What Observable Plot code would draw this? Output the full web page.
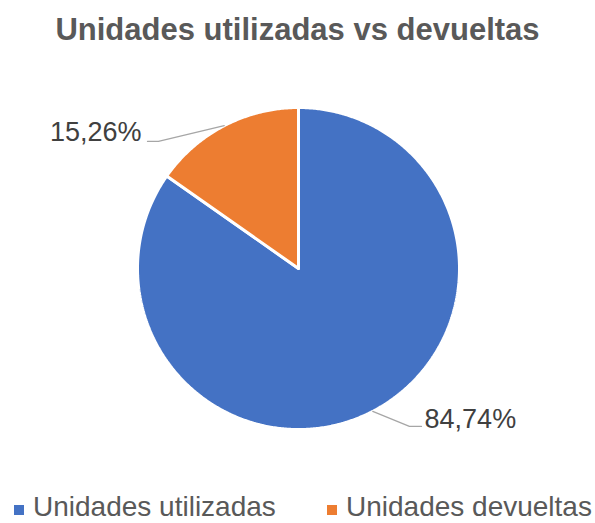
<!DOCTYPE html>
<html>
<head>
<meta charset="utf-8">
<script src="https://cdn.jsdelivr.net/npm/d3@7"></script>
<script src="https://cdn.jsdelivr.net/npm/@observablehq/plot@0.6"></script>
<style>
  html, body { margin: 0; padding: 0; background: #fff; }
  #wrap { position: relative; width: 595px; height: 523px; overflow: hidden; font-family: "Liberation Sans", Arial, sans-serif; }
  #title { position: absolute; left: 0; top: 0; width: 595px; height: 62px; text-align: center; font-weight: bold; font-size: 31px; color: #595959; line-height: 60px; }
  #chart { position: absolute; left: 0; top: 62px; }
  #legend { position: absolute; left: 0; top: 480px; width: 595px; height: 43px; }
  .item { position: absolute; top: 0; height: 43px; font-size: 28px; color: #595959; line-height: 43px; white-space: nowrap; }
  .sw { position: absolute; top: 25px; width: 10px; height: 10px; }
</style>
</head>
<body>
<div id="wrap">
  <div id="title"></div>
  <div id="chart"></div>
  <div id="legend"></div>
</div>
<script>
// ---- data ----
const titleText = "Unidades utilizadas vs devueltas";
const categories = ["Unidades utilizadas", "Unidades devueltas"];
const values = [84.74, 15.26];
const valueLabels = ["84,74%", "15,26%"];
const colors = ["#4472C4", "#ED7D31"];

document.getElementById("title").textContent = titleText;

// ---- slice geometry from values ----
const arcs = d3.pie().sort(null).value(d => d)(values);
const polys = [];
arcs.forEach((a, i) => {
  const cat = categories[i];
  polys.push({cat, x: 0, y: 0});
  const n = Math.max(2, Math.ceil((a.endAngle - a.startAngle) / (Math.PI / 360)));
  for (let k = 0; k <= n; k++) {
    const t = a.startAngle + (a.endAngle - a.startAngle) * k / n;
    polys.push({cat, x: Math.sin(t), y: Math.cos(t)});
  }
  polys.push({cat, x: 0, y: 0});
});

// label layout (data units relative to the unit circle)
const labelLayout = [
  {elbow: [0.689, -0.981], end: [0.764, -0.981], text: [0.783, -0.988], anchor: "start"},
  {elbow: [-0.870, 0.789], end: [-0.938, 0.789], text: [-0.975, 0.795], anchor: "end"}
];
const leaders = [];
const labels = [];
arcs.forEach((a, i) => {
  const mid = (a.startAngle + a.endAngle) / 2;
  const L = labelLayout[i];
  leaders.push({id: i, x: Math.sin(mid), y: Math.cos(mid)});
  leaders.push({id: i, x: L.elbow[0], y: L.elbow[1]});
  leaders.push({id: i, x: L.end[0], y: L.end[1]});
  labels.push({x: L.text[0], y: L.text[1], t: valueLabels[i], anchor: L.anchor});
});

const cx = 298, cy = 206, r = 161;
const plot = Plot.plot({
  width: 595,
  height: 418,
  margin: 0,
  x: {domain: [-1, 1], range: [cx - r, cx + r], axis: null},
  y: {domain: [-1, 1], range: [cy + r, cy - r], axis: null},
  color: {domain: categories, range: colors},
  style: {fontFamily: '"Liberation Sans", Arial, sans-serif', background: "transparent"},
  marks: [
    Plot.line(polys, {x: "x", y: "y", z: "cat", fill: "cat", stroke: "white", strokeWidth: 3, strokeLinejoin: "miter", curve: "linear"}),
    Plot.line(leaders, {x: "x", y: "y", z: "id", stroke: "#A6A6A6", strokeWidth: 1.25}),
    Plot.text(labels.filter(d => d.anchor === "start"), {x: "x", y: "y", text: "t", textAnchor: "start", lineAnchor: "bottom", fontSize: 27, fill: "#404040"}),
    Plot.text(labels.filter(d => d.anchor === "end"), {x: "x", y: "y", text: "t", textAnchor: "end", lineAnchor: "bottom", fontSize: 27, fill: "#404040"})
  ]
});
document.getElementById("chart").appendChild(plot);

// ---- legend ----
const legend = document.getElementById("legend");
const legendX = [14, 327];
categories.forEach((c, i) => {
  const sw = document.createElement("div");
  sw.className = "sw";
  sw.style.left = legendX[i] + "px";
  sw.style.background = colors[i];
  legend.appendChild(sw);
  const lb = document.createElement("div");
  lb.className = "item";
  lb.style.left = (legendX[i] + 19) + "px";
  lb.style.top = "5px";
  lb.textContent = c;
  legend.appendChild(lb);
});
</script>
</body>
</html>
